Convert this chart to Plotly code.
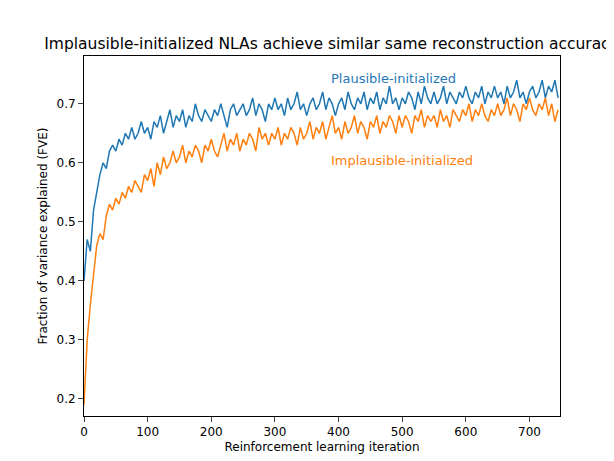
import plotly.graph_objects as go

iterations = list(range(0, 750, 5))
plausible = [
    0.40, 0.47, 0.45, 0.52, 0.55, 0.58, 0.60, 0.59, 0.62, 0.63,
    0.62, 0.64, 0.63, 0.65, 0.64, 0.66, 0.64, 0.65, 0.67, 0.65,
    0.66, 0.64, 0.67, 0.66, 0.68, 0.65, 0.67, 0.69, 0.66, 0.68,
    0.67, 0.69, 0.66, 0.68, 0.67, 0.70, 0.68, 0.67, 0.69, 0.68,
    0.67, 0.69, 0.68, 0.70, 0.68, 0.66, 0.69, 0.70, 0.68, 0.69,
    0.70, 0.68, 0.69, 0.71, 0.68, 0.70, 0.69, 0.67, 0.70, 0.69,
    0.71, 0.69, 0.70, 0.68, 0.71, 0.69, 0.70, 0.72, 0.69, 0.70,
    0.68, 0.70, 0.71, 0.69, 0.70, 0.72, 0.69, 0.71, 0.70, 0.68,
    0.70, 0.71, 0.69, 0.72, 0.70, 0.69, 0.71, 0.70, 0.72, 0.69,
    0.71, 0.70, 0.72, 0.69, 0.71, 0.70, 0.73, 0.70, 0.71, 0.69,
    0.71, 0.70, 0.72, 0.71, 0.69, 0.72, 0.70, 0.73, 0.71, 0.70,
    0.72, 0.70, 0.71, 0.73, 0.70, 0.72, 0.71, 0.70, 0.72, 0.71,
    0.73, 0.71, 0.70, 0.72, 0.71, 0.73, 0.70, 0.72, 0.71, 0.73,
    0.71, 0.72, 0.70, 0.73, 0.71, 0.72, 0.74, 0.71, 0.72, 0.70,
    0.72, 0.73, 0.71, 0.72, 0.74, 0.71, 0.73, 0.72, 0.74, 0.71,
]
implausible = [
    0.19, 0.30, 0.36, 0.41, 0.46, 0.48, 0.47, 0.51, 0.53, 0.52,
    0.54, 0.53, 0.55, 0.54, 0.56, 0.55, 0.57, 0.56, 0.55, 0.58,
    0.57, 0.59, 0.56, 0.60, 0.58, 0.61, 0.59, 0.60, 0.62, 0.60,
    0.61, 0.63, 0.60, 0.62, 0.61, 0.63, 0.62, 0.60, 0.63, 0.62,
    0.64, 0.62, 0.61, 0.63, 0.65, 0.62, 0.64, 0.63, 0.65, 0.62,
    0.64, 0.63, 0.65, 0.64, 0.62, 0.66, 0.64, 0.65, 0.63, 0.65,
    0.64, 0.66, 0.63, 0.65, 0.64, 0.66, 0.65, 0.63, 0.66, 0.64,
    0.65, 0.67, 0.64, 0.66, 0.65, 0.67, 0.64, 0.66, 0.68, 0.65,
    0.66, 0.64, 0.67, 0.65, 0.66, 0.68, 0.65, 0.67, 0.66, 0.64,
    0.67, 0.66, 0.68, 0.65, 0.67, 0.66, 0.68, 0.67, 0.65, 0.68,
    0.66, 0.68, 0.67, 0.65, 0.68, 0.67, 0.69, 0.66, 0.68, 0.67,
    0.68, 0.66, 0.69, 0.67, 0.68, 0.66, 0.69, 0.68, 0.67, 0.69,
    0.68, 0.70, 0.67, 0.69, 0.68, 0.70, 0.68, 0.67, 0.69, 0.68,
    0.70, 0.68, 0.69, 0.71, 0.68, 0.70, 0.69, 0.67, 0.70, 0.69,
    0.71, 0.69, 0.68, 0.70, 0.69, 0.71, 0.68, 0.70, 0.67, 0.69,
]

BLUE = "#1f77b4"
ORANGE = "#ff7f0e"
font = "DejaVu Sans"

fig = go.Figure()
fig.add_trace(go.Scatter(x=iterations, y=plausible, mode="lines",
                         line=dict(color=BLUE, width=1.5)))
fig.add_trace(go.Scatter(x=iterations, y=implausible, mode="lines",
                         line=dict(color=ORANGE, width=1.5)))

fig.add_annotation(x=385, y=0.743, text="Plausible-initialized", showarrow=False,
                   xanchor="left", font=dict(color=BLUE, size=13, family=font))
fig.add_annotation(x=385, y=0.604, text="Implausible-initialized", showarrow=False,
                   xanchor="left", font=dict(color=ORANGE, size=13, family=font))

axis = dict(showline=True, linecolor="black", mirror=True, ticks="outside",
            showgrid=False, zeroline=False, automargin=False,
            tickfont=dict(size=12, family=font, color="black"))
fig.update_layout(
    width=614, height=461,
    margin=dict(l=76, r=62, t=48, b=53, autoexpand=False),
    plot_bgcolor="white", paper_bgcolor="white",
    showlegend=False,
    title=dict(text="Implausible-initialized NLAs achieve similar same reconstruction accuracy",
               x=0.527, xanchor="center", y=0.91, yanchor="bottom",
               font=dict(size=15.5, family=font, color="black")),
    font=dict(family=font, color="black"),
)
fig.update_xaxes(axis, range=[0, 748], tickvals=[0, 100, 200, 300, 400, 500, 600, 700],
                 title=dict(text="Reinforcement learning iteration", font=dict(size=12), standoff=4))
fig.update_yaxes(axis, range=[0.171, 0.781], tickvals=[0.2, 0.3, 0.4, 0.5, 0.6, 0.7],
                 title=dict(text="Fraction of variance explained (FVE)", font=dict(size=12), standoff=6))

fig.write_html("out.html")
